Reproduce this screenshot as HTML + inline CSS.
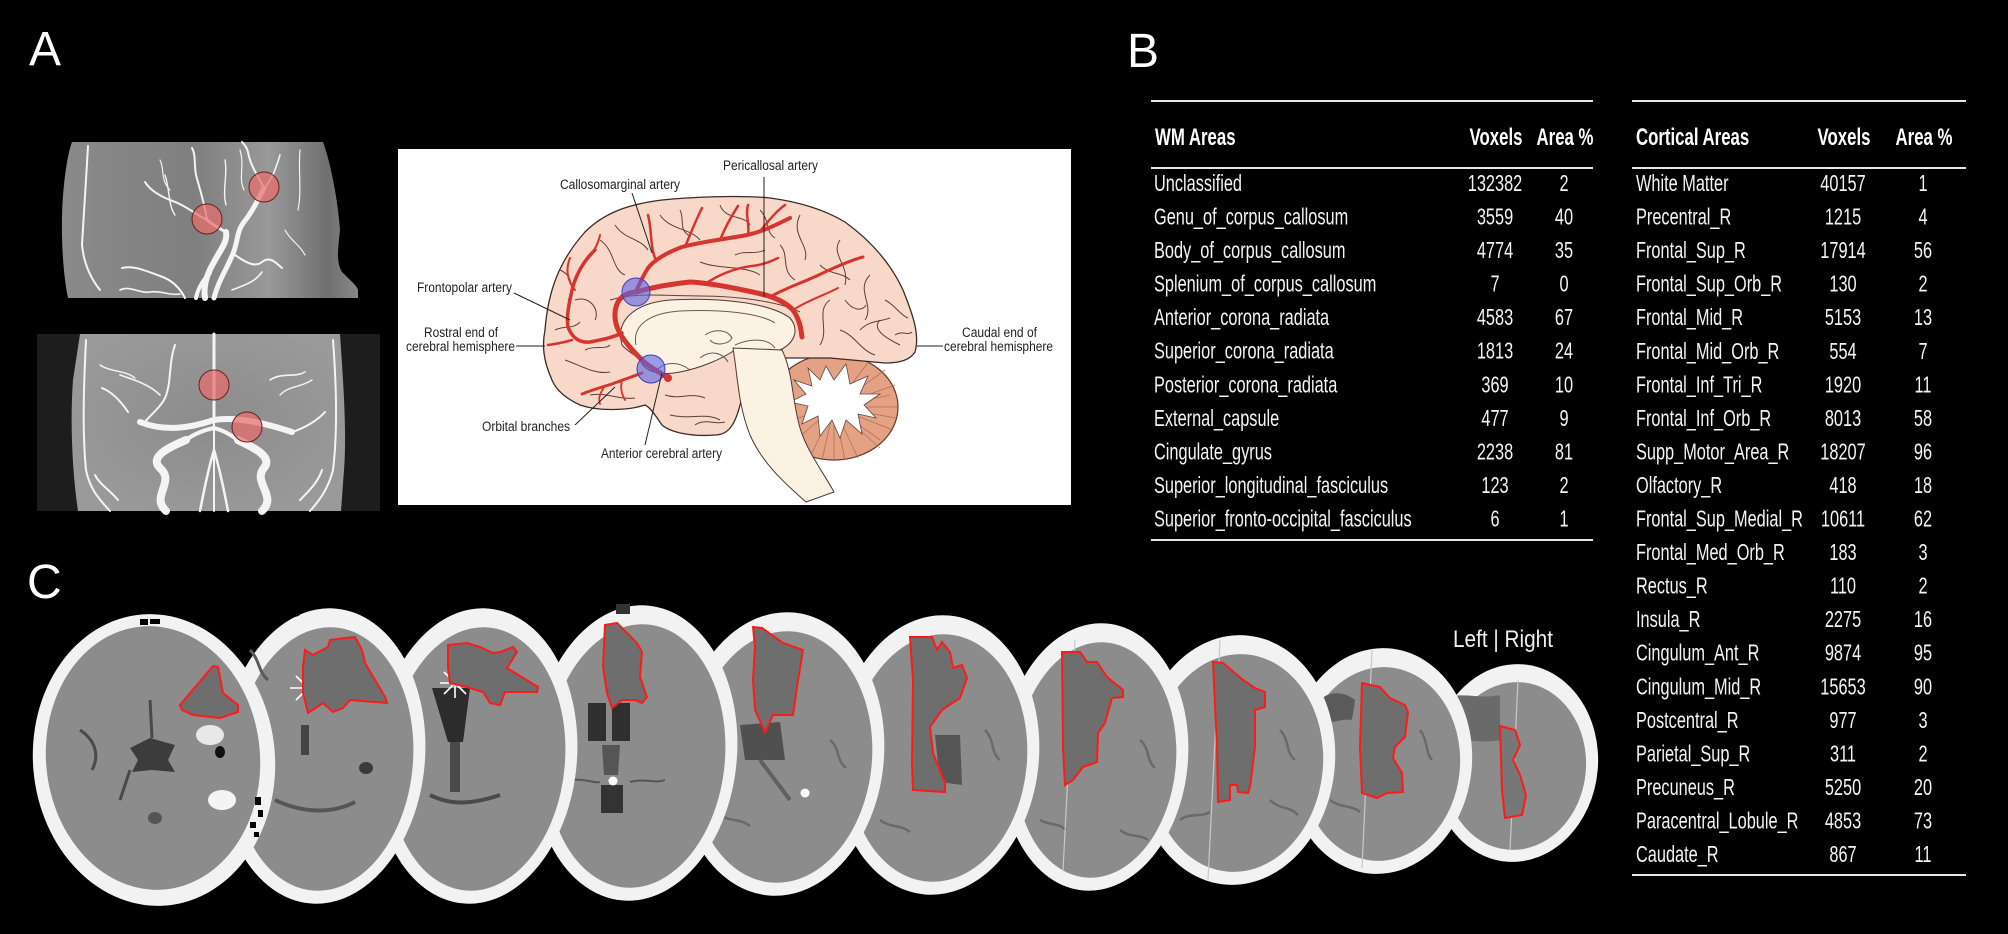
<!DOCTYPE html>
<html><head><meta charset="utf-8"><style>
html,body{margin:0;padding:0;background:#000;}
svg{display:block;}
</style></head><body>
<svg width="2008" height="934" viewBox="0 0 2008 934" xmlns="http://www.w3.org/2000/svg" font-family="'Liberation Sans', sans-serif">
<rect width="2008" height="934" fill="#000"/>

<!-- Panel letters -->
<text x="29" y="65" font-size="48" fill="#fff">A</text>
<text x="1127" y="67" font-size="48" fill="#fff">B</text>
<text x="27" y="598" font-size="48" fill="#fff">C</text>

<!-- ========== Panel A: MRA top ========== -->
<defs>
<linearGradient id="mra1" x1="0" y1="0" x2="1" y2="0">
<stop offset="0" stop-color="#8a8a8a"/><stop offset="0.45" stop-color="#7f7f7f"/><stop offset="0.7" stop-color="#999"/><stop offset="0.9" stop-color="#6f6f6f"/><stop offset="1" stop-color="#888"/>
</linearGradient>
<radialGradient id="mra2" cx="0.5" cy="0.5" r="0.6">
<stop offset="0" stop-color="#8c8c8c"/><stop offset="1" stop-color="#9a9a9a"/>
</radialGradient>
</defs>
<path d="M72,142 L323,142 C330,160 338,200 340,230 C338,250 336,262 342,272 C352,282 357,286 358,290 L358,298 L68,298 C62,270 60,220 64,185 C66,165 69,150 72,142 Z" fill="url(#mra1)"/>
<g fill="none" stroke="#f4f4f4" stroke-linecap="round">
<path d="M88,146 C86,180 84,215 82,245 C84,265 92,280 100,290" stroke-width="2"/>
<path d="M205,298 C203,285 208,272 214,262 C220,250 228,242 226,232" stroke-width="6"/>
<path d="M196,298 C198,288 203,280 210,273" stroke-width="4"/>
<path d="M214,298 C218,282 226,270 232,256 C238,244 236,232 244,222 C252,212 258,200 264,188" stroke-width="5"/>
<path d="M226,232 C218,228 212,224 207,220" stroke-width="3"/>
<path d="M207,220 C195,214 185,205 170,200 C160,196 150,190 145,182" stroke-width="2"/>
<path d="M207,220 C205,205 200,190 196,175 C194,165 196,155 192,148" stroke-width="2"/>
<path d="M264,188 C258,176 250,165 248,152 C247,148 244,144 242,142" stroke-width="2"/>
<path d="M264,188 C272,180 276,168 280,155" stroke-width="1.6"/>
<path d="M235,255 C245,262 255,268 262,262 C270,256 275,262 282,268" stroke-width="2"/>
<path d="M185,298 C180,288 172,280 160,276 C148,272 135,265 122,268" stroke-width="2"/>
<path d="M232,290 C245,285 255,282 262,272" stroke-width="1.6"/>
<path d="M165,175 C170,190 168,205 175,215" stroke-width="1.4"/>
<path d="M225,160 C228,175 222,190 226,205" stroke-width="1.4"/>
<path d="M120,290 C130,285 140,294 150,292 C160,290 170,296 180,294" stroke-width="1.6"/>
<path d="M300,150 C298,170 302,190 298,210" stroke-width="1.2"/>
<path d="M160,160 C165,170 160,180 170,190" stroke-width="1.2"/>
<path d="M240,150 C245,165 238,178 244,190" stroke-width="1.2"/>
<path d="M285,230 C290,240 300,245 305,255" stroke-width="1.2"/>
</g>
<circle cx="207" cy="219" r="15" fill="#e86c6c" fill-opacity="0.72" stroke="#6a2020" stroke-width="1"/>
<circle cx="264" cy="187" r="15" fill="#e86c6c" fill-opacity="0.72" stroke="#6a2020" stroke-width="1"/>

<!-- MRA bottom -->
<rect x="37" y="334" width="343" height="177" fill="#1d1d1d"/>
<path d="M80,334 L340,334 C343,380 347,430 344,470 L341,511 L78,511 C72,470 70,420 73,380 Z" fill="url(#mra2)"/>
<g fill="none" stroke="#f4f4f4" stroke-linecap="round">
<path d="M86,340 C84,380 82,430 86,470 C90,490 100,500 110,511" stroke-width="2"/>
<path d="M333,340 C336,380 338,430 333,470 C328,490 318,502 310,511" stroke-width="2"/>
<path d="M214,334 L214,511" stroke-width="2"/>
<path d="M214,334 L214,420" stroke-width="3"/>
<path d="M140,422 C165,432 190,428 214,420 C238,416 268,424 292,432" stroke-width="6"/>
<path d="M128,412 C120,400 112,392 102,388" stroke-width="2"/>
<path d="M292,432 C305,428 318,420 325,412" stroke-width="2"/>
<path d="M166,511 C150,496 176,482 160,468 C148,456 172,446 186,440" stroke-width="8"/>
<path d="M262,511 C278,496 252,482 264,468 C274,456 250,446 238,440" stroke-width="8"/>
<path d="M186,440 C194,434 204,430 214,428" stroke-width="4"/>
<path d="M238,440 C230,434 222,430 214,428" stroke-width="4"/>
<path d="M200,511 C204,490 208,470 214,450" stroke-width="2.5"/>
<path d="M228,511 C224,490 220,470 214,450" stroke-width="2.5"/>
<path d="M175,345 C168,365 172,385 164,400 C158,410 150,415 145,422" stroke-width="2"/>
<path d="M120,375 C135,380 150,385 160,395" stroke-width="1.6"/>
<path d="M270,380 C282,372 295,378 305,372" stroke-width="1.6"/>
<path d="M118,500 C110,490 100,485 95,475" stroke-width="2"/>
<path d="M300,500 C310,490 318,482 322,470" stroke-width="2"/>
<path d="M280,395 C290,385 300,388 312,380" stroke-width="1.4"/>
<path d="M100,365 C110,372 125,370 135,378" stroke-width="1.4"/>
</g>
<circle cx="214" cy="385" r="15" fill="#e86c6c" fill-opacity="0.72" stroke="#6a2020" stroke-width="1"/>
<circle cx="247" cy="427" r="15" fill="#e86c6c" fill-opacity="0.72" stroke="#6a2020" stroke-width="1"/>

<!-- ========== Brain illustration ========== -->
<rect x="398" y="149" width="673" height="356" fill="#fff"/>
<!-- cerebellum -->
<ellipse cx="834" cy="407" rx="64" ry="53" fill="#e4a183" stroke="#5a3a30" stroke-width="1.2"/>
<g stroke="#b5705a" stroke-width="0.8">
<path d="M834,407 L898,407 M834,407 L893,430 M834,407 L880,448 M834,407 L858,458 M834,407 L834,460 M834,407 L810,457 M834,407 L790,445 M834,407 L895,385 M834,407 L885,370 M834,407 L870,360 M834,407 L775,425 M834,407 L880,440 M834,407 L845,460 M834,407 L822,460 M834,407 L890,395 M834,407 L896,418"/>
</g>
<polygon points="826,366 834,380 846,364 850,384 868,376 860,394 880,394 864,405 876,418 858,414 862,434 846,420 840,438 832,420 820,436 818,416 802,424 808,406 790,402 806,394 794,380 812,386 808,368 820,380" fill="#fff" stroke="#5a4a44" stroke-width="0.8"/>
<!-- cerebrum -->
<path d="M552,380 C543,360 542,345 545,330 C548,290 560,260 585,232 C605,212 630,204 662,200 C690,197 740,195 770,198 C800,202 825,210 845,222 C870,240 890,262 903,290 C913,315 920,335 915,352 C910,360 900,363 885,363 L830,358 L775,358 C760,365 745,385 740,405 C735,425 728,435 715,435 C690,437 670,432 662,425 C655,415 650,407 645,405 C630,410 600,412 580,405 C565,398 556,390 552,380 Z" fill="#f8d8c8" stroke="#3b2b28" stroke-width="1.3"/>
<!-- gyri -->
<g fill="none" stroke="#5a4038" stroke-width="1">
<path d="M600,240 C615,250 612,270 625,275"/>
<path d="M575,300 C590,295 600,310 595,320"/>
<path d="M660,215 C670,230 690,228 700,240"/>
<path d="M720,205 C725,220 745,215 750,225"/>
<path d="M800,215 C790,235 810,245 805,260"/>
<path d="M840,240 C830,255 850,265 845,285"/>
<path d="M870,275 C855,290 875,305 865,320"/>
<path d="M880,320 C870,330 890,340 900,345"/>
<path d="M830,300 C815,310 830,330 820,345"/>
<path d="M700,262 C720,270 745,265 760,275"/>
<path d="M840,330 C855,335 860,350 875,355"/>
<path d="M565,360 C580,365 595,375 610,372"/>
<path d="M590,395 C605,392 620,400 635,398"/>
<path d="M670,415 C690,420 705,412 720,420"/>
<path d="M560,270 C572,275 575,290 568,300"/>
<path d="M615,225 C625,240 640,238 648,250"/>
<path d="M780,245 C790,255 780,270 795,280"/>
<path d="M610,300 C640,292 660,296 700,296 C740,296 780,302 800,312"/>
<path d="M555,330 C565,325 572,330 580,322"/>
<path d="M680,210 C685,220 678,230 690,236"/>
<path d="M760,210 C770,220 765,232 775,238"/>
<path d="M820,265 C830,275 842,272 850,280"/>
<path d="M885,300 C895,305 900,315 908,318"/>
<path d="M860,330 C870,320 880,322 890,318"/>
<path d="M845,300 C852,310 862,312 866,305"/>
<path d="M585,350 C595,345 605,350 610,345"/>
<path d="M665,395 C680,400 690,392 705,398"/>
<path d="M695,425 C705,418 715,425 725,422"/>
<path d="M735,255 C745,250 755,255 765,250"/>
<path d="M895,335 C902,330 908,336 912,332"/>
</g>
<!-- medial cream structures -->
<path d="M622,345 C615,320 635,303 670,300 C720,297 770,303 790,318 C800,330 795,345 775,352 C760,356 745,352 735,350 C720,360 700,368 680,372 C660,376 645,372 640,360 C636,355 628,352 622,345 Z" fill="#fbf2e4" stroke="#4a3a34" stroke-width="1"/>
<path d="M636,345 C632,325 650,313 680,311 C720,309 760,313 775,323" fill="none" stroke="#6a5a54" stroke-width="1"/>
<path d="M733,348 C738,378 738,405 750,435 C763,465 788,486 806,502 L834,492 C822,470 803,446 798,420 C792,395 792,370 782,350 Z" fill="#fbf2e4" stroke="#4a3a34" stroke-width="1"/>
<path d="M735,345 C750,338 768,338 775,348" fill="none" stroke="#6a5a54" stroke-width="1"/>
<path d="M655,372 C665,360 680,362 690,370 M700,358 C710,350 722,352 728,362 M705,335 C715,328 728,330 732,338 C728,345 715,346 710,340" fill="none" stroke="#6a5a54" stroke-width="1"/>
<!-- arteries -->
<g fill="none" stroke="#d6342e" stroke-linecap="round" stroke-linejoin="round">
<path d="M668,378 C660,372 650,368 642,360 C634,352 622,340 617,327 C613,315 615,303 622,297 C628,293 632,292 636,292 C650,288 670,284 690,282 C710,283 735,288 757,293 C772,296 785,302 793,310 C800,320 801,330 802,337" stroke-width="5"/>
<path d="M636,292 C640,282 643,276 648,268 C654,260 668,252 682,247 C700,242 720,240 747,235 C760,232 770,228 790,218" stroke-width="4"/>
<path d="M655,258 C650,245 652,230 648,215 M685,247 C690,235 695,222 702,208 M720,240 C725,228 730,218 738,206 M760,231 C768,222 775,212 785,205 M748,235 C750,225 745,215 748,205" stroke-width="2.5"/>
<path d="M705,284 C718,275 735,268 752,266 C762,265 770,262 778,258" stroke-width="2.5"/>
<path d="M770,297 C785,288 805,282 825,272 C840,265 852,260 863,257" stroke-width="3"/>
<path d="M793,310 C808,300 825,295 838,288" stroke-width="2"/>
<path d="M622,333 C612,338 600,340 590,342 C580,343 572,338 568,327 C566,315 570,300 572,290 C575,278 582,262 595,250" stroke-width="3.5"/>
<path d="M572,340 C565,342 556,344 548,345" stroke-width="2.5"/>
<path d="M575,290 C568,282 565,270 570,258 M585,262 C592,255 598,245 600,235" stroke-width="2"/>
<path d="M642,373 C632,377 622,380 612,384 C602,387 592,390 582,394" stroke-width="3"/>
<path d="M605,386 C600,393 598,398 600,404 M622,380 C620,388 622,395 625,400" stroke-width="1.8"/>
</g>
<circle cx="668" cy="378" r="4" fill="#d6342e"/>
<circle cx="636" cy="292" r="14" fill="#5a64e6" fill-opacity="0.6" stroke="#3a40c0" stroke-width="1"/>
<circle cx="651" cy="369" r="14" fill="#5a64e6" fill-opacity="0.6" stroke="#3a40c0" stroke-width="1"/>
<!-- leader lines -->
<g stroke="#222" stroke-width="1" fill="none">
<path d="M632,193 L652,253"/>
<path d="M764,177 L764,297"/>
<path d="M514,293 L570,320"/>
<path d="M516,346 L545,346"/>
<path d="M575,425 L615,387"/>
<path d="M645,445 L662,373"/>
<path d="M917,346 L943,346"/>
</g>
<g font-size="13.5" fill="#222">
<text x="560" y="189" textLength="120" lengthAdjust="spacingAndGlyphs">Callosomarginal artery</text>
<text x="723" y="170" textLength="95" lengthAdjust="spacingAndGlyphs">Pericallosal artery</text>
<text x="417" y="292" textLength="95" lengthAdjust="spacingAndGlyphs">Frontopolar artery</text>
<text x="424" y="337" textLength="74" lengthAdjust="spacingAndGlyphs">Rostral end of</text>
<text x="406" y="351" textLength="109" lengthAdjust="spacingAndGlyphs">cerebral hemisphere</text>
<text x="482" y="431" textLength="88" lengthAdjust="spacingAndGlyphs">Orbital branches</text>
<text x="601" y="458" textLength="121" lengthAdjust="spacingAndGlyphs">Anterior cerebral artery</text>
<text x="962" y="337" textLength="75" lengthAdjust="spacingAndGlyphs">Caudal end of</text>
<text x="944" y="351" textLength="109" lengthAdjust="spacingAndGlyphs">cerebral hemisphere</text>
</g>

<!-- ========== Panel B tables ========== -->
<g stroke="#e6e6e6" stroke-width="2">
<line x1="1151" y1="101" x2="1593" y2="101"/>
<line x1="1151" y1="168" x2="1593" y2="168"/>
<line x1="1151" y1="540" x2="1593" y2="540"/>
<line x1="1632" y1="101" x2="1966" y2="101"/>
<line x1="1632" y1="168" x2="1966" y2="168"/>
<line x1="1632" y1="875" x2="1966" y2="875"/>
</g>
<g fill="#fff" font-size="24" font-weight="bold">
<text transform="translate(1155,145) scale(0.70,1)">WM Areas</text>
<text transform="translate(1496,145) scale(0.70,1)" text-anchor="middle">Voxels</text>
<text transform="translate(1565,145) scale(0.70,1)" text-anchor="middle">Area %</text>
<text transform="translate(1636,145) scale(0.70,1)">Cortical Areas</text>
<text transform="translate(1844,145) scale(0.70,1)" text-anchor="middle">Voxels</text>
<text transform="translate(1924,145) scale(0.70,1)" text-anchor="middle">Area %</text>
</g>
<g fill="#f4f4f4" font-size="23">
<text transform="translate(1154,191) scale(0.71,1)">Unclassified</text>
<text transform="translate(1154,224.5) scale(0.71,1)">Genu_of_corpus_callosum</text>
<text transform="translate(1154,258.1) scale(0.71,1)">Body_of_corpus_callosum</text>
<text transform="translate(1154,291.6) scale(0.71,1)">Splenium_of_corpus_callosum</text>
<text transform="translate(1154,325.2) scale(0.71,1)">Anterior_corona_radiata</text>
<text transform="translate(1154,358.7) scale(0.71,1)">Superior_corona_radiata</text>
<text transform="translate(1154,392.3) scale(0.71,1)">Posterior_corona_radiata</text>
<text transform="translate(1154,425.8) scale(0.71,1)">External_capsule</text>
<text transform="translate(1154,459.4) scale(0.71,1)">Cingulate_gyrus</text>
<text transform="translate(1154,492.9) scale(0.71,1)">Superior_longitudinal_fasciculus</text>
<text transform="translate(1154,526.5) scale(0.71,1)">Superior_fronto-occipital_fasciculus</text>
</g>
<g fill="#f4f4f4" font-size="23" text-anchor="middle">
<text transform="translate(1495,191) scale(0.71,1)">132382</text>
<text transform="translate(1495,224.5) scale(0.71,1)">3559</text>
<text transform="translate(1495,258.1) scale(0.71,1)">4774</text>
<text transform="translate(1495,291.6) scale(0.71,1)">7</text>
<text transform="translate(1495,325.2) scale(0.71,1)">4583</text>
<text transform="translate(1495,358.7) scale(0.71,1)">1813</text>
<text transform="translate(1495,392.3) scale(0.71,1)">369</text>
<text transform="translate(1495,425.8) scale(0.71,1)">477</text>
<text transform="translate(1495,459.4) scale(0.71,1)">2238</text>
<text transform="translate(1495,492.9) scale(0.71,1)">123</text>
<text transform="translate(1495,526.5) scale(0.71,1)">6</text>
<text transform="translate(1564,191) scale(0.71,1)">2</text>
<text transform="translate(1564,224.5) scale(0.71,1)">40</text>
<text transform="translate(1564,258.1) scale(0.71,1)">35</text>
<text transform="translate(1564,291.6) scale(0.71,1)">0</text>
<text transform="translate(1564,325.2) scale(0.71,1)">67</text>
<text transform="translate(1564,358.7) scale(0.71,1)">24</text>
<text transform="translate(1564,392.3) scale(0.71,1)">10</text>
<text transform="translate(1564,425.8) scale(0.71,1)">9</text>
<text transform="translate(1564,459.4) scale(0.71,1)">81</text>
<text transform="translate(1564,492.9) scale(0.71,1)">2</text>
<text transform="translate(1564,526.5) scale(0.71,1)">1</text>
</g>
<g fill="#f4f4f4" font-size="23">
<text transform="translate(1636,191) scale(0.71,1)">White Matter</text>
<text transform="translate(1636,224.55) scale(0.71,1)">Precentral_R</text>
<text transform="translate(1636,258.1) scale(0.71,1)">Frontal_Sup_R</text>
<text transform="translate(1636,291.65) scale(0.71,1)">Frontal_Sup_Orb_R</text>
<text transform="translate(1636,325.2) scale(0.71,1)">Frontal_Mid_R</text>
<text transform="translate(1636,358.75) scale(0.71,1)">Frontal_Mid_Orb_R</text>
<text transform="translate(1636,392.3) scale(0.71,1)">Frontal_Inf_Tri_R</text>
<text transform="translate(1636,425.85) scale(0.71,1)">Frontal_Inf_Orb_R</text>
<text transform="translate(1636,459.4) scale(0.71,1)">Supp_Motor_Area_R</text>
<text transform="translate(1636,492.95) scale(0.71,1)">Olfactory_R</text>
<text transform="translate(1636,526.5) scale(0.71,1)">Frontal_Sup_Medial_R</text>
<text transform="translate(1636,560.05) scale(0.71,1)">Frontal_Med_Orb_R</text>
<text transform="translate(1636,593.6) scale(0.71,1)">Rectus_R</text>
<text transform="translate(1636,627.15) scale(0.71,1)">Insula_R</text>
<text transform="translate(1636,660.7) scale(0.71,1)">Cingulum_Ant_R</text>
<text transform="translate(1636,694.25) scale(0.71,1)">Cingulum_Mid_R</text>
<text transform="translate(1636,727.8) scale(0.71,1)">Postcentral_R</text>
<text transform="translate(1636,761.35) scale(0.71,1)">Parietal_Sup_R</text>
<text transform="translate(1636,794.9) scale(0.71,1)">Precuneus_R</text>
<text transform="translate(1636,828.45) scale(0.71,1)">Paracentral_Lobule_R</text>
<text transform="translate(1636,862) scale(0.71,1)">Caudate_R</text>
</g>
<g fill="#f4f4f4" font-size="23" text-anchor="middle">
<text transform="translate(1843,191) scale(0.71,1)">40157</text>
<text transform="translate(1843,224.55) scale(0.71,1)">1215</text>
<text transform="translate(1843,258.1) scale(0.71,1)">17914</text>
<text transform="translate(1843,291.65) scale(0.71,1)">130</text>
<text transform="translate(1843,325.2) scale(0.71,1)">5153</text>
<text transform="translate(1843,358.75) scale(0.71,1)">554</text>
<text transform="translate(1843,392.3) scale(0.71,1)">1920</text>
<text transform="translate(1843,425.85) scale(0.71,1)">8013</text>
<text transform="translate(1843,459.4) scale(0.71,1)">18207</text>
<text transform="translate(1843,492.95) scale(0.71,1)">418</text>
<text transform="translate(1843,526.5) scale(0.71,1)">10611</text>
<text transform="translate(1843,560.05) scale(0.71,1)">183</text>
<text transform="translate(1843,593.6) scale(0.71,1)">110</text>
<text transform="translate(1843,627.15) scale(0.71,1)">2275</text>
<text transform="translate(1843,660.7) scale(0.71,1)">9874</text>
<text transform="translate(1843,694.25) scale(0.71,1)">15653</text>
<text transform="translate(1843,727.8) scale(0.71,1)">977</text>
<text transform="translate(1843,761.35) scale(0.71,1)">311</text>
<text transform="translate(1843,794.9) scale(0.71,1)">5250</text>
<text transform="translate(1843,828.45) scale(0.71,1)">4853</text>
<text transform="translate(1843,862) scale(0.71,1)">867</text>
<text transform="translate(1923,191) scale(0.71,1)">1</text>
<text transform="translate(1923,224.55) scale(0.71,1)">4</text>
<text transform="translate(1923,258.1) scale(0.71,1)">56</text>
<text transform="translate(1923,291.65) scale(0.71,1)">2</text>
<text transform="translate(1923,325.2) scale(0.71,1)">13</text>
<text transform="translate(1923,358.75) scale(0.71,1)">7</text>
<text transform="translate(1923,392.3) scale(0.71,1)">11</text>
<text transform="translate(1923,425.85) scale(0.71,1)">58</text>
<text transform="translate(1923,459.4) scale(0.71,1)">96</text>
<text transform="translate(1923,492.95) scale(0.71,1)">18</text>
<text transform="translate(1923,526.5) scale(0.71,1)">62</text>
<text transform="translate(1923,560.05) scale(0.71,1)">3</text>
<text transform="translate(1923,593.6) scale(0.71,1)">2</text>
<text transform="translate(1923,627.15) scale(0.71,1)">16</text>
<text transform="translate(1923,660.7) scale(0.71,1)">95</text>
<text transform="translate(1923,694.25) scale(0.71,1)">90</text>
<text transform="translate(1923,727.8) scale(0.71,1)">3</text>
<text transform="translate(1923,761.35) scale(0.71,1)">2</text>
<text transform="translate(1923,794.9) scale(0.71,1)">20</text>
<text transform="translate(1923,828.45) scale(0.71,1)">73</text>
<text transform="translate(1923,862) scale(0.71,1)">11</text>
</g>

<!-- ========== Panel C CT slices (drawn back to front) ========== -->
<text x="1453" y="647" font-size="24" fill="#eee" textLength="100" lengthAdjust="spacingAndGlyphs">Left | Right</text>

<!-- slice 10 -->
<g>
<ellipse cx="1515" cy="763" rx="83" ry="99" transform="rotate(5 1515 763)" fill="#f2f2f2"/>
<ellipse cx="1515" cy="766" rx="71" ry="84" transform="rotate(5 1515 766)" fill="#8c8c8c"/>
<path d="M1440,700 C1460,690 1480,700 1500,695 L1500,740 C1480,745 1460,735 1445,745 Z" fill="#6a6a6a"/>
<line x1="1518" y1="680" x2="1510" y2="850" stroke="#c8c8c8" stroke-width="1.2"/>
<polygon points="1500,726 1515,730 1520,745 1513,760 1520,775 1526,795 1522,815 1505,818 1502,790" fill="#777" stroke="#ff1a1a" stroke-width="2"/>
</g>
<!-- slice 9 -->
<g>
<ellipse cx="1380" cy="761" rx="92" ry="113" transform="rotate(5 1380 761)" fill="#f2f2f2"/>
<ellipse cx="1381" cy="764" rx="79" ry="97" transform="rotate(5 1381 764)" fill="#8c8c8c"/>
<path d="M1320,700 C1330,690 1345,692 1355,700 L1352,720 C1340,718 1330,725 1320,722 Z" fill="#5a5a5a"/>
<path d="M1420,730 C1428,740 1425,752 1432,760 M1330,800 C1340,808 1352,805 1360,812" stroke="#6a6a6a" stroke-width="2.5" fill="none"/>
<line x1="1372" y1="650" x2="1362" y2="868" stroke="#c8c8c8" stroke-width="1.2"/>
<polygon points="1362,683 1380,687 1390,698 1405,705 1408,712 1405,737 1395,747 1393,758 1402,773 1403,792 1387,793 1377,798 1362,793 1360,747" fill="#6e6e6e" stroke="#ff1a1a" stroke-width="2"/>
</g>
<!-- slice 8 -->
<g>
<ellipse cx="1236" cy="760" rx="99" ry="125" transform="rotate(5 1236 760)" fill="#f2f2f2"/>
<ellipse cx="1237" cy="763" rx="86" ry="109" transform="rotate(5 1237 763)" fill="#8c8c8c"/>
<path d="M1280,730 C1290,740 1285,752 1295,760 M1270,800 C1280,810 1290,806 1298,815 M1180,820 C1190,812 1200,818 1210,812" stroke="#6a6a6a" stroke-width="2.5" fill="none"/>
<line x1="1220" y1="640" x2="1208" y2="880" stroke="#c8c8c8" stroke-width="1.2"/>
<polygon points="1213,662 1223,663 1243,680 1255,688 1265,692 1265,707 1255,710 1255,747 1250,787 1248,793 1238,792 1237,785 1230,785 1230,800 1218,802 1217,747" fill="#6e6e6e" stroke="#ff1a1a" stroke-width="2"/>
</g>
<!-- slice 7 -->
<g>
<ellipse cx="1095" cy="757" rx="93" ry="134" transform="rotate(5 1095 757)" fill="#f2f2f2"/>
<ellipse cx="1096" cy="760" rx="80" ry="118" transform="rotate(5 1096 760)" fill="#8c8c8c"/>
<path d="M1140,740 C1150,748 1146,760 1155,768 M1040,820 C1050,826 1058,822 1066,830 M1120,830 C1130,838 1140,834 1148,840" stroke="#6a6a6a" stroke-width="2.5" fill="none"/>
<line x1="1075" y1="640" x2="1063" y2="870" stroke="#c8c8c8" stroke-width="1.2"/>
<polygon points="1062,652 1080,652 1087,662 1097,662 1107,677 1123,690 1123,697 1112,698 1105,723 1098,733 1097,762 1083,767 1073,780 1065,785 1063,747" fill="#6e6e6e" stroke="#ff1a1a" stroke-width="2"/>
</g>
<!-- slice 6 -->
<g>
<ellipse cx="937" cy="755" rx="102" ry="140" transform="rotate(5 937 755)" fill="#f2f2f2"/>
<ellipse cx="938" cy="758" rx="89" ry="124" transform="rotate(5 938 758)" fill="#8c8c8c"/>
<path d="M935,735 L960,735 L962,785 L940,782 Z" fill="#555"/>
<path d="M985,730 C995,740 990,752 1000,760 M880,820 C890,828 900,824 910,832" stroke="#6a6a6a" stroke-width="2.5" fill="none"/>
<polygon points="910,637 932,637 937,650 942,642 950,652 953,668 962,665 967,678 960,698 942,710 930,727 933,753 945,783 945,792 913,790 912,765 913,680" fill="#6e6e6e" stroke="#ff1a1a" stroke-width="2"/>
</g>
<!-- slice 5 -->
<g>
<ellipse cx="781" cy="754" rx="103" ry="142" transform="rotate(5 781 754)" fill="#f2f2f2"/>
<ellipse cx="782" cy="757" rx="90" ry="126" transform="rotate(5 782 757)" fill="#8c8c8c"/>
<path d="M740,725 L780,722 L785,760 L745,760 Z" fill="#505050"/>
<path d="M760,760 L790,800" stroke="#606060" stroke-width="4"/>
<path d="M830,740 C840,748 836,760 846,768 M720,815 C730,822 740,818 750,826" stroke="#6a6a6a" stroke-width="2.5" fill="none"/>
<circle cx="805" cy="793" r="4.5" fill="#fff"/>
<polygon points="753,627 762,628 783,643 803,650 797,687 793,715 773,715 765,732 755,710 753,680 755,647" fill="#6e6e6e" stroke="#ff1a1a" stroke-width="2"/>
</g>
<!-- slice 4 -->
<g>
<ellipse cx="635" cy="753" rx="102" ry="148" transform="rotate(5 635 753)" fill="#f2f2f2"/>
<ellipse cx="636" cy="756" rx="89" ry="132" transform="rotate(5 636 756)" fill="#8c8c8c"/>
<rect x="588" y="703" width="18" height="38" fill="#2f2f2f"/>
<rect x="612" y="703" width="18" height="38" fill="#2f2f2f"/>
<path d="M602,745 L620,745 L618,775 L604,775 Z" fill="#555"/>
<rect x="601" y="785" width="22" height="28" fill="#333"/>
<circle cx="613" cy="781" r="4.5" fill="#fff"/>
<rect x="616" y="604" width="14" height="10" fill="#333"/>
<path d="M570,780 C585,778 595,784 600,782 M630,782 C645,778 655,784 665,780" stroke="#555" stroke-width="2" fill="none"/>
<polygon points="605,625 617,623 637,643 642,652 640,677 647,697 642,703 635,700 622,700 612,708 607,693 603,667" fill="#6e6e6e" stroke="#ff1a1a" stroke-width="2"/>
</g>
<!-- slice 3 -->
<g>
<ellipse cx="476" cy="756" rx="101" ry="148" transform="rotate(5 476 756)" fill="#f2f2f2"/>
<ellipse cx="477" cy="759" rx="88" ry="132" transform="rotate(5 477 759)" fill="#8c8c8c"/>
<polygon points="432,688 470,688 463,742 448,742" fill="#2c2c2c"/>
<rect x="450" y="742" width="10" height="50" fill="#4a4a4a"/>
<path d="M430,795 C450,805 470,805 500,795" stroke="#4a4a4a" stroke-width="4" fill="none"/>
<g stroke="#fff" stroke-width="1.6"><path d="M440,683 L470,683 M455,668 L455,698 M444,672 L466,694 M444,694 L466,672"/></g>
<polygon points="448,645 467,643 480,647 493,653 500,652 513,647 517,652 507,668 538,687 537,692 505,692 500,705 490,703 483,692 467,687 450,683 448,667" fill="#6e6e6e" stroke="#ff1a1a" stroke-width="2"/>
</g>
<!-- slice 2 -->
<g>
<ellipse cx="323" cy="756" rx="102" ry="148" transform="rotate(5 323 756)" fill="#f2f2f2"/>
<ellipse cx="324" cy="759" rx="89" ry="132" transform="rotate(5 324 759)" fill="#8c8c8c"/>
<rect x="301" y="725" width="8" height="30" fill="#444"/>
<ellipse cx="366" cy="768" rx="7" ry="6" fill="#3a3a3a"/>
<path d="M275,800 C300,812 330,815 355,802" stroke="#555" stroke-width="4" fill="none"/>
<path d="M250,650 C260,660 258,672 268,680" stroke="#5a5a5a" stroke-width="3" fill="none"/>
<ellipse cx="293" cy="614" rx="7" ry="3" fill="#000"/>
<g stroke="#fff" stroke-width="1.6"><path d="M290,688 L326,688 M308,670 L308,706 M296,676 L320,700 M296,700 L320,676"/></g>
<polygon points="305,650 313,655 328,647 330,640 345,638 355,637 362,650 365,663 385,697 387,703 350,700 343,708 333,712 323,703 308,713 303,693 303,667" fill="#6e6e6e" stroke="#ff1a1a" stroke-width="2"/>
</g>
<!-- slice 1 -->
<g>
<ellipse cx="154" cy="760" rx="121" ry="146" transform="rotate(-5 154 760)" fill="#f2f2f2"/>
<ellipse cx="153" cy="758" rx="107" ry="132" transform="rotate(-5 153 758)" fill="#8c8c8c"/>
<path d="M130,748 L150,738 L175,745 L168,760 L175,772 L152,770 L132,772 L138,760 Z" fill="#3c3c3c"/>
<path d="M150,700 L152,738 M80,730 C95,740 100,755 92,770 M130,770 L120,800" stroke="#4a4a4a" stroke-width="3" fill="none"/>
<ellipse cx="155" cy="818" rx="7" ry="6" fill="#555"/>
<ellipse cx="210" cy="735" rx="14" ry="10" fill="#e8e8e8"/>
<ellipse cx="222" cy="800" rx="14" ry="10" fill="#f4f4f4"/>
<ellipse cx="220" cy="752" rx="5" ry="6" fill="#111"/>
<g fill="#000"><rect x="140" y="619" width="8" height="6"/><rect x="150" y="619" width="10" height="5"/><rect x="255" y="797" width="6" height="8"/><rect x="258" y="810" width="5" height="7"/><rect x="250" y="822" width="6" height="6"/><rect x="254" y="832" width="5" height="5"/></g>
<polygon points="180,705 213,666 218,667 223,693 238,705 238,712 220,718 193,715 182,710" fill="#6e6e6e" stroke="#ff1a1a" stroke-width="2"/>
</g>
</svg>
</body></html>
